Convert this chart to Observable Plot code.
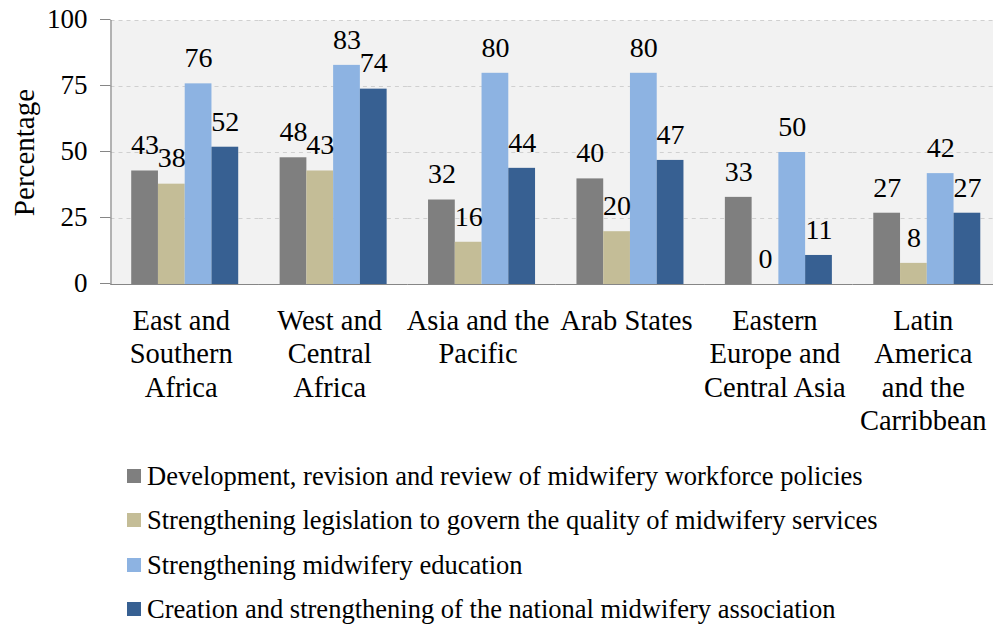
<!DOCTYPE html>
<html><head><meta charset="utf-8">
<script src="https://cdn.jsdelivr.net/npm/d3@7"></script>
<script src="https://cdn.jsdelivr.net/npm/@observablehq/plot@0.6"></script>
<style>
html,body{margin:0;padding:0;background:#fff;overflow:hidden;}
#chart{width:993px;height:627px;overflow:hidden;color:#000;}
#plotwrap{width:1001px;}
#plotwrap svg{display:block;max-width:none;}
.legend{line-height:44.3px;padding-left:127px;white-space:nowrap;}
.legend .sw{display:inline-block;width:14px;height:14px;margin-right:6px;vertical-align:2px;}
</style></head><body>
<div id="chart"><div id="plotwrap"></div><div class="legend" id="legend"></div></div>
<script>
const regions = ["East and Southern Africa","West and Central Africa","Asia and the Pacific","Arab States","Eastern Europe and Central Asia","Latin America and the Carribbean"];
const regionLabels = ["East and\nSouthern\nAfrica","West and\nCentral\nAfrica","Asia and the\nPacific","Arab States","Eastern\nEurope and\nCentral Asia","Latin\nAmerica\nand the\nCarribbean"];
const seriesNames = [
  "Development, revision and review of midwifery workforce policies",
  "Strengthening legislation to govern the quality of midwifery services",
  "Strengthening midwifery education",
  "Creation and strengthening of the national midwifery association"
];
const seriesColors = ["#7f7f7f","#c4bd97","#8db3e2","#376092"];
const policies    = [43, 48, 32, 40, 33, 27];
const legislation = [38, 43, 16, 20,  0,  8];
const education   = [76, 83, 80, 80, 50, 42];
const association = [52, 74, 44, 47, 11, 27];
const yTicks = [0, 25, 50, 75, 100];
const gridTicks = [25, 50, 75, 100];
const yLabel = "Percentage";

// pick an installed serif face (Times-like preferred)
const ctx = document.createElement("canvas").getContext("2d");
const probe = "Development, revision and review mmmwwwiii 0123456789";
function width(fam) { ctx.font = `40px ${fam}`; return ctx.measureText(probe).width; }
const candidates = ["Liberation Serif", "Tinos", "Times New Roman", "Times", "Nimbus Roman", "Noto Serif", "DejaVu Serif", "FreeSerif"];
let family = "serif";
for (const c of candidates) {
  if (width(`"${c}", monospace`) !== width("monospace") && width(`"${c}", sans-serif`) !== width("sans-serif")) { family = `"${c}"`; break; }
}
const fontFamily = `${family}, serif`;
// normalise sizes so the first legend line spans the reference width
ctx.font = `26.5px ${fontFamily}`;
const k = Math.max(0.75, Math.min(1.25, 716 / ctx.measureText(seriesNames[0]).width));
const fs = v => v * k;

const seriesValues = [policies, legislation, education, association];
const data = regions.flatMap((r, i) => seriesNames.map((s, j) => ({region: r, series: s, value: seriesValues[j][i]})));

const chart = Plot.plot({
  width: 1001, height: 454,
  marginLeft: 110.5, marginRight: 0, marginTop: 20, marginBottom: 170,
  style: {fontFamily, maxWidth: "none", background: "transparent", color: "#000", overflow: "visible"},
  fx: {domain: regions, padding: 0, label: null, round: false},
  x: {domain: seriesNames, paddingInner: 0, paddingOuter: 0.774, axis: null, round: false},
  y: {domain: [0, 100], label: null},
  color: {domain: seriesNames, range: seriesColors},
  marks: [
    Plot.frame({fill: "#f2f2f2", stroke: null, insetLeft: -0.6, insetRight: -0.6}),
    Plot.gridY(gridTicks, {stroke: "#d0d0d0", strokeOpacity: 1, strokeDasharray: "4,4"}),
    Plot.barY(data, {fx: "region", x: "series", y: "value", fill: "series"}),
    Plot.text(data, {fx: "region", x: "series", y: "value", text: d => String(d.value), dy: -25.7, lineAnchor: "middle", fontSize: fs(28), fill: "#000"}),
    Plot.ruleY([0], {stroke: "#868686", strokeWidth: 1.2}),
    Plot.frame({anchor: "left", stroke: "#868686", strokeWidth: 1.2, facetAnchor: "left"}),
    Plot.axisY(yTicks, {tickSize: 10.5, tickPadding: 13, fontSize: fs(27), stroke: "#868686", fill: "#000", label: null, dy: -1}),
    Plot.axisFx({anchor: "bottom", tickSize: 0, tickPadding: 21.5, fontSize: fs(28.5), lineHeight: 33.5 / fs(28.5), dx: -4, label: null, fill: "#000",
      tickFormat: d => regionLabels[regions.indexOf(d)]}),
    Plot.text([yLabel], {frameAnchor: "left", dx: -86.5, rotate: -90, textAnchor: "middle", lineAnchor: "middle", fontSize: fs(29), fill: "#000", facetAnchor: "left"})
  ]
});
document.getElementById("plotwrap").appendChild(chart);

const legend = document.getElementById("legend");
legend.style.fontFamily = fontFamily;
legend.style.fontSize = fs(26.5) + "px";
seriesNames.forEach((name, j) => {
  const row = document.createElement("div");
  const sw = document.createElement("span");
  sw.className = "sw";
  sw.style.background = seriesColors[j];
  row.appendChild(sw);
  row.appendChild(document.createTextNode(name));
  legend.appendChild(row);
});
</script>
</body></html>
